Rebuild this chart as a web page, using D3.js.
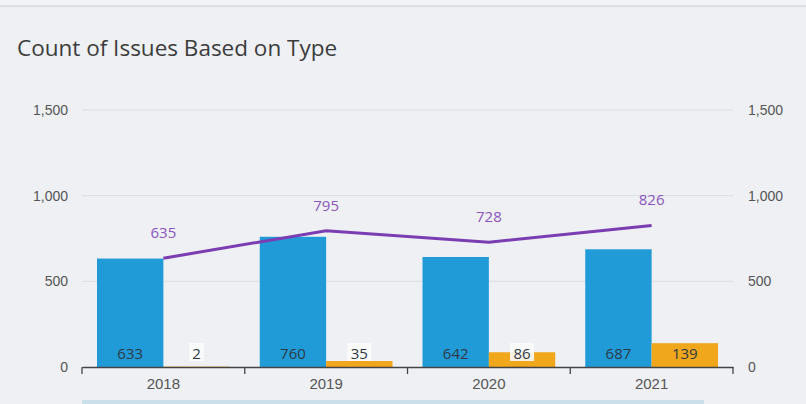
<!DOCTYPE html>
<html>
<head>
<meta charset="utf-8">
<script src="https://cdn.jsdelivr.net/npm/d3@7"></script>
<style>
  body { margin: 0; background: #eef0f4; }
  svg { display: block; font-family: "Open Sans", "Noto Sans", sans-serif; }
  .axis text { fill: #555; font-size: 14px; }
  .grid line { stroke: #dadde2; }
</style>
</head>
<body>
<svg id="chart" width="806" height="404"></svg>
<script>
var years = ["2018", "2019", "2020", "2021"];
var blueValues = [633, 760, 642, 687];
var orangeValues = [2, 35, 86, 139];
var totalValues = [635, 795, 728, 826];
var yTicks = [0, 500, 1000, 1500];

var margin = { top: 110, right: 73, bottom: 37, left: 82 };
var width = 806 - margin.left - margin.right;
var height = 404 - margin.top - margin.bottom;

var svg = d3.select("#chart");

// page chrome
svg.append("rect").attr("x", 0).attr("y", 0).attr("width", 806).attr("height", 5).attr("fill", "#f2f3f6");
svg.append("rect").attr("x", 0).attr("y", 5).attr("width", 806).attr("height", 2).attr("fill", "#dcdee3");
svg.append("rect").attr("x", 82).attr("y", 400).attr("width", 622).attr("height", 4).attr("fill", "#cadfea");

svg.append("text")
    .attr("x", 17)
    .attr("y", 56)
    .attr("fill", "#3c3c3c")
    .style("font-size", "22.5px")
    .text("Count of Issues Based on Type");

var x = d3.scaleBand().domain(years).range([0, width]).paddingInner(0).paddingOuter(0);
var y = d3.scaleLinear().domain([0, 1500]).range([height, 0]);

var chart = svg.append("g")
    .attr("transform", "translate(" + margin.left + "," + margin.top + ")");

chart.append("g")
    .attr("class", "grid")
    .selectAll("line")
    .data(yTicks.slice(1))
    .enter().append("line")
    .attr("x1", 0)
    .attr("x2", width)
    .attr("y1", function(d) { return y(d); })
    .attr("y2", function(d) { return y(d); });

var yLeft = d3.axisLeft(y).tickValues(yTicks).tickSize(0).tickPadding(14).tickFormat(d3.format(","));
var yRight = d3.axisRight(y).tickValues(yTicks).tickSize(0).tickPadding(15).tickFormat(d3.format(","));

chart.append("g").attr("class", "axis").call(yLeft).call(function(g) { g.select(".domain").remove(); });
chart.append("g").attr("class", "axis").attr("transform", "translate(" + width + ",0)")
    .call(yRight).call(function(g) { g.select(".domain").remove(); });

var pad = 15;
var barW = (x.bandwidth() - 2 * pad) / 2;

chart.selectAll(".bar-blue")
    .data(years)
    .enter().append("rect")
    .attr("class", "bar-blue")
    .attr("x", function(d) { return x(d) + pad; })
    .attr("y", function(d, i) { return y(blueValues[i]); })
    .attr("width", barW)
    .attr("height", function(d, i) { return height - y(blueValues[i]); })
    .attr("fill", "#219bd8");

chart.selectAll(".bar-orange")
    .data(years)
    .enter().append("rect")
    .attr("class", "bar-orange")
    .attr("x", function(d) { return x(d) + pad + barW; })
    .attr("y", function(d, i) { return y(orangeValues[i]); })
    .attr("width", barW)
    .attr("height", function(d, i) { return height - y(orangeValues[i]); })
    .attr("fill", "#f1a71b");

// x axis
var xAxis = d3.axisBottom(x).tickSize(0).tickPadding(11);
var xg = chart.append("g").attr("class", "axis")
    .attr("transform", "translate(0," + height + ")")
    .call(xAxis);
xg.select(".domain").attr("stroke", "#444").attr("stroke-width", 1.3);
xg.selectAll("text").attr("fill", "#444").style("font-size", "15px");
xg.selectAll(".sep")
    .data(years.concat(["end"]))
    .enter().append("line")
    .attr("x1", function(d, i) { return i < years.length ? x(d) : width; })
    .attr("x2", function(d, i) { return i < years.length ? x(d) : width; })
    .attr("y1", 0).attr("y2", 7)
    .attr("stroke", "#444").attr("stroke-width", 1.3);

// bar value labels
function addLabels(values, offset, boxed) {
    var g = chart.append("g");
    years.forEach(function(yr, i) {
        var cx = x(yr) + pad + offset + barW / 2;
        var txt = String(values[i]);
        if (boxed(values[i])) {
            var w = txt.length * 9 + 6;
            g.append("rect")
                .attr("x", cx - w / 2).attr("y", height - 24)
                .attr("width", w).attr("height", 18)
                .attr("fill", "#fbfbfb").attr("opacity", 0.9);
        }
        g.append("text")
            .attr("x", cx).attr("y", height - 8)
            .attr("text-anchor", "middle")
            .attr("fill", "#2d3a45")
            .style("font-size", "15px")
            .text(txt);
    });
}
addLabels(blueValues, 0, function() { return false; });
addLabels(orangeValues, barW, function(v) { return y(v) > height - 22; });

// total line
var line = d3.line()
    .x(function(d, i) { return x(years[i]) + x.bandwidth() / 2; })
    .y(function(d) { return y(d); });

chart.append("path")
    .datum(totalValues)
    .attr("d", line)
    .attr("fill", "none")
    .attr("stroke", "#7a3db2")
    .attr("stroke-width", 3);

chart.selectAll(".total-label")
    .data(totalValues)
    .enter().append("text")
    .attr("class", "total-label")
    .attr("x", function(d, i) { return x(years[i]) + x.bandwidth() / 2; })
    .attr("y", function(d) { return y(d) - 20; })
    .attr("text-anchor", "middle")
    .attr("fill", "#8a55bd")
    .style("font-size", "15px")
    .text(function(d) { return d; });
</script>
</body>
</html>
